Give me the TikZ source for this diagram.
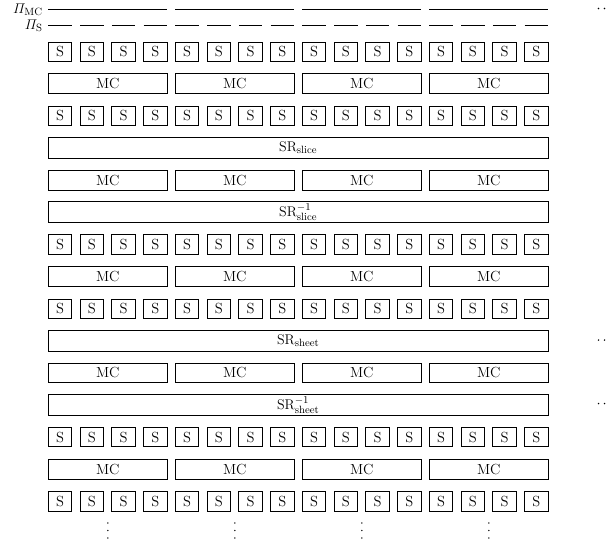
\documentclass[tikz,border=0pt]{standalone}
\usepackage{amsmath}
\begin{document}
\begin{tikzpicture}[x=0.855pt,y=-0.855pt,
  box/.style={draw,line width=0.6pt,inner sep=0pt,outer sep=0pt,font=\fontsize{12.5}{15}\selectfont},
  sbox/.style={box,minimum width=20.1pt,minimum height=16.5pt},
  mcbox/.style={box,minimum width=101.7pt,minimum height=17pt},
  srbox/.style={box,minimum width=427.5pt,minimum height=18pt},
  lbl/.style={anchor=east,inner sep=0pt,font=\fontsize{12.5}{15}\selectfont},
  pline/.style={line width=0.6pt},
  dotmark/.style={fill=black,draw=none,circle,minimum size=1.3pt,inner sep=0pt}]
\useasboundingbox (0,0) rectangle (609,548);
% labels and lines
\node[lbl] (pmc) at (43,9.5) {$\varPi_{\mathrm{MC}}$};
\node[lbl] (ps) at (43,25.5) {$\varPi_{\mathrm{S}}$};
\foreach \k in {0,...,3}{
  \coordinate (pmca\k) at ({48.3+127*\k},9.5);
  \coordinate (pmcb\k) at ({48.3+127*\k+119},9.5);
  \draw[pline] (pmca\k) -- (pmcb\k);
}
\foreach \j in {0,...,15}{
  \coordinate (psa\j) at ({48.3+31.75*\j},25.5);
  \coordinate (psb\j) at ({48.3+31.75*\j+23.5},25.5);
  \draw[pline] (psa\j) -- (psb\j);
}
% S rows
\foreach \r in {0,2,6,8,12,14}{
  \foreach \j in {0,...,15}{
    \node[sbox] (s-\r-\j) at ({60+31.75*\j},{51.5+32.14*\r}) {S};
  }
}
% MC rows
\foreach \r in {1,4,7,10,13}{
  \foreach \k in {0,...,3}{
    \node[mcbox] (mc-\r-\k) at ({107.8+127*\k},{51.5+32.14*\r}) {MC};
  }
}
% SR rows
\node[srbox] (sr-3) at (298.3,{51.5+32.14*3}) {$\mathrm{SR}_{\mathrm{slice}}$};
\node[srbox] (sr-5) at (298.3,{51.5+32.14*5}) {$\mathrm{SR}^{-1}_{\mathrm{slice}}$};
\node[srbox] (sr-9) at (298.3,{51.5+32.14*9}) {$\mathrm{SR}_{\mathrm{sheet}}$};
\node[srbox] (sr-11) at (298.3,{51.5+32.14*11}) {$\mathrm{SR}^{-1}_{\mathrm{sheet}}$};
% vertical dots
\foreach \k in {0,...,3}{
  \foreach \y [count=\m] in {523,530.5,538}{
    \node[dotmark] (vd-\k-\m) at ({107.8+127*\k},\y) {};
  }
}
% right dots
\foreach \y [count=\i] in {8.5,340,403.5}{
  \node[dotmark] (da\i) at (598.5,\y) {};
  \node[dotmark] (db\i) at (604.5,\y) {};
}
\end{tikzpicture}
\end{document}
